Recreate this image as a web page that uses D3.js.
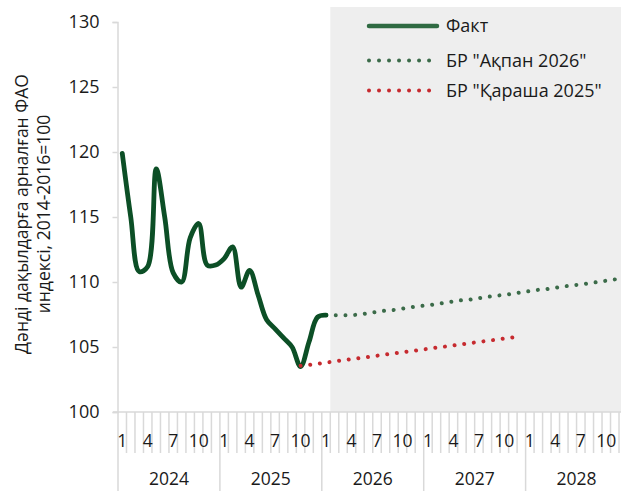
<!DOCTYPE html>
<html><head><meta charset="utf-8">
<script src="https://cdn.jsdelivr.net/npm/d3@7"></script>
<style>
html,body{margin:0;padding:0;background:#fff;}
text{font-family:"Open Sans",sans-serif;fill:#1a1a1a;}
</style></head>
<body><svg id="chart" width="621" height="491"></svg>
<script>
// ---- data ----
const years = ["2024","2025","2026","2027","2028"];
const monthLabels = ["1","","","4","","","7","","","10","",""];
const yTicks = [100,105,110,115,120,125,130];
// Fact: Jan 2024 .. Jan 2026 (index 0..24)
const factValues = [119.9,115.0,110.8,111.2,118.7,115.0,110.7,110.0,113.4,114.5,111.3,111.3,
                    111.8,112.7,109.6,110.9,109.0,107.1,106.4,105.7,105.0,103.5,105.4,107.3,107.45];
const factStart = 0;
// БР "Ақпан 2026": Jan 2026 .. Dec 2028 (index 24..59)
const febValues = [107.45,107.45,107.45,107.45,107.5,107.6,107.7,107.8,107.85,107.95,108.05,108.15,
                   108.2,108.3,108.4,108.5,108.6,108.65,108.75,108.85,108.95,109.0,109.1,109.2,
                   109.3,109.4,109.45,109.55,109.65,109.75,109.8,109.9,110.0,110.1,110.2,110.3];
const febStart = 24;
// БР "Қараша 2025": Oct 2025 .. Dec 2027 (index 21..47)
const novValues = [103.55,103.62,103.71,103.80,103.89,103.98,104.07,104.15,104.24,104.33,104.42,104.51,
                   104.59,104.68,104.77,104.86,104.95,105.03,105.12,105.21,105.30,105.39,105.47,105.56,
                   105.65,105.74,105.83];
const novStart = 21;
const shadeStart = 25; // forecast period shading from Feb 2026
const seriesNames = ["Факт","БР \"Ақпан 2026\"","БР \"Қараша 2025\""];

// ---- chart ----
const svg = d3.select("#chart");
const categories = [];
years.forEach(y => monthLabels.forEach((m,i) => categories.push({year:y, m:i, label:m})));
const idx = d3.range(categories.length);

const x = d3.scaleBand().domain(idx).range([118, 627.5]).padding(0);
const y = d3.scaleLinear().domain([100,130]).range([412,22]);
const cx = i => x(i) + x.bandwidth()/2;

// shaded forecast area
svg.append("rect")
  .attr("x", x(shadeStart)).attr("y", 7)
  .attr("width", 627.5 - x(shadeStart)).attr("height", y(100) - 7)
  .attr("fill", "#eeeeee");

// y axis
const yAxis = svg.append("g").attr("transform","translate(117.5,0)")
  .call(d3.axisLeft(y).tickValues(yTicks).tickSize(5).tickPadding(13));
yAxis.select(".domain").attr("stroke","#d9d9d9").attr("stroke-width",1.5);
yAxis.selectAll(".tick line").attr("stroke","#d9d9d9").attr("stroke-width",1.5);
yAxis.selectAll("text").attr("font-size",18).attr("font-family","Open Sans").attr("fill","#1a1a1a");

// x axis line
svg.append("line").attr("x1",113).attr("x2",627.5).attr("y1",y(100)).attr("y2",y(100))
  .attr("stroke","#d9d9d9").attr("stroke-width",1.5);

// month separator ticks
svg.append("g").selectAll("line").data(idx.concat([idx.length])).join("line")
  .attr("x1", i => i < idx.length ? x(i) : 627.5)
  .attr("x2", i => i < idx.length ? x(i) : 627.5)
  .attr("y1", y(100))
  .attr("y2", i => (i % 12 === 0) ? 491 : 453)
  .attr("stroke","#d9d9d9").attr("stroke-width",1.5);

// month labels
svg.append("g").selectAll("text").data(categories.filter(c => c.label !== "")).join("text")
  .attr("x", (c) => cx(categories.indexOf(c)))
  .attr("y", 447)
  .attr("text-anchor","middle").attr("font-size",17.5)
  .text(c => c.label);

// year labels
svg.append("g").selectAll("text").data(years).join("text")
  .attr("x", (yr,i) => (x(i*12) + (i*12+12 < idx.length ? x(i*12+12) : 627.5))/2)
  .attr("y", 485)
  .attr("text-anchor","middle").attr("font-size",17.5)
  .text(d => d);

// y-axis title
const title = svg.append("text").attr("transform","translate(28,214) rotate(-90)")
  .attr("text-anchor","middle").attr("font-size",17.5);
title.append("tspan").attr("x",0).attr("dy",0).text("Дәнді дақылдарға арналған ФАО");
title.append("tspan").attr("x",0).attr("dy",22).text("индексі, 2014-2016=100");

// lines
const factLine = d3.line().x((d,i) => cx(factStart+i)).y(d => y(d)).curve(d3.curveCatmullRom.alpha(0.5));
const fLine = (start) => d3.line().x((d,i) => cx(start+i)).y(d => y(d));

svg.append("path").datum(febValues).attr("d", fLine(febStart))
  .attr("fill","none").attr("stroke","#3b6b49").attr("stroke-width",4)
  .attr("stroke-linecap","round").attr("stroke-dasharray","0.01 9.7");

svg.append("path").datum(factValues).attr("d", factLine)
  .attr("fill","none").attr("stroke","#0c4f26").attr("stroke-width",4.8)
  .attr("stroke-linecap","round").attr("stroke-linejoin","round");

svg.append("path").datum(novValues).attr("d", fLine(novStart))
  .attr("fill","none").attr("stroke","#c62a2f").attr("stroke-width",4)
  .attr("stroke-linecap","round").attr("stroke-dasharray","0.01 9.7");

// legend
const lg = svg.append("g");
const legendY = [26, 60.5, 90.5];
lg.append("line").attr("x1",369).attr("x2",437).attr("y1",legendY[0]).attr("y2",legendY[0])
  .attr("stroke","#2f6a42").attr("stroke-width",4.5).attr("stroke-linecap","round");
lg.append("line").attr("x1",369).attr("x2",430).attr("y1",legendY[1]).attr("y2",legendY[1])
  .attr("stroke","#3b6b49").attr("stroke-width",4).attr("stroke-linecap","round").attr("stroke-dasharray","0.01 10");
lg.append("line").attr("x1",369).attr("x2",430).attr("y1",legendY[2]).attr("y2",legendY[2])
  .attr("stroke","#c62a2f").attr("stroke-width",4).attr("stroke-linecap","round").attr("stroke-dasharray","0.01 10");
lg.selectAll("text").data(seriesNames).join("text")
  .attr("x",446).attr("y",(d,i) => legendY[i]).attr("dy","0.35em")
  .attr("font-size",18).text(d => d);
</script></body></html>
